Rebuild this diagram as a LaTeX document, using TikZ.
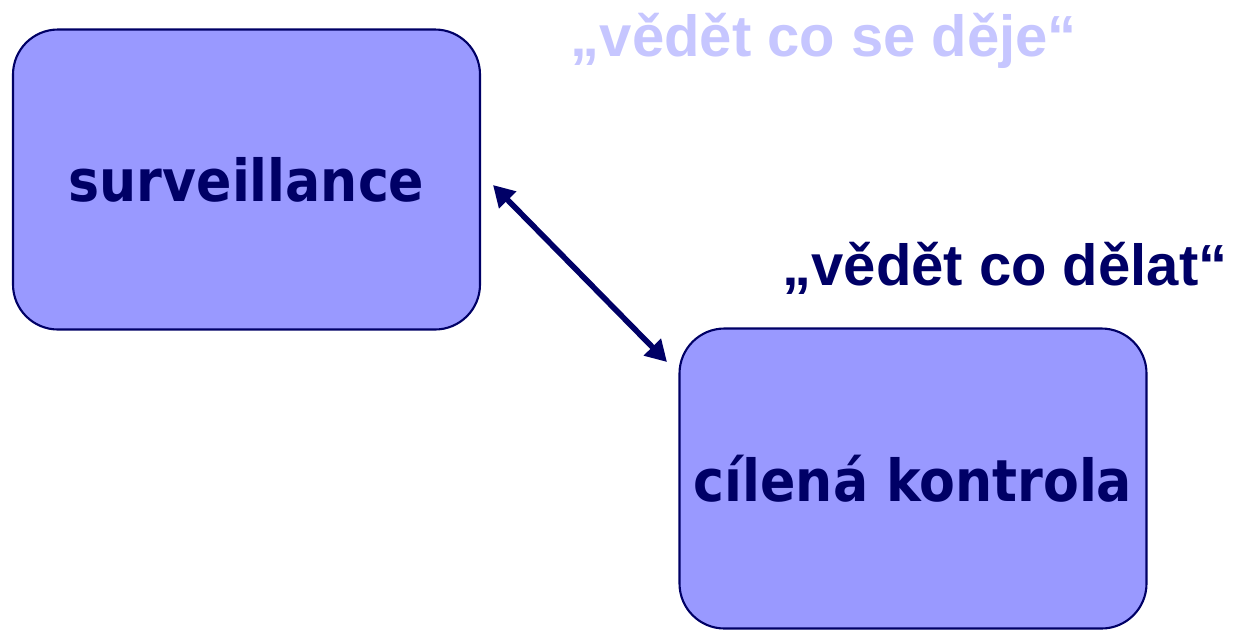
\documentclass[tikz,border=0pt]{standalone}
\usepackage{fontspec}
\usepackage{xcolor}
\setmainfont{DejaVu Sans Condensed}
\newfontfamily\quotefont{Liberation Sans}
\usetikzlibrary{arrows.meta}

\definecolor{boxfill}{HTML}{9999FF}
\definecolor{navy}{HTML}{000066}
\definecolor{paleblue}{HTML}{C6C6FF}

\tikzset{
  topic/.style={draw=navy, line width=1.2pt, fill=boxfill, rounded corners=0.9cm,
    text=navy, font=\fontsize{33}{40}\selectfont\bfseries,
    minimum width=9.34cm, minimum height=6.0cm, inner sep=0pt},
  motto/.style={font=\quotefont\fontsize{33}{40}\selectfont\bfseries, inner sep=0pt},
  twoway/.style={arrows={Triangle[length=0.42cm,width=0.46cm]-Triangle[length=0.42cm,width=0.46cm]}}
}

\begin{document}
\begin{tikzpicture}
\useasboundingbox (0,0) rectangle (24.68,-12.6);
\node[topic] (surv) at (4.93,-3.59) {surveillance};
\node[topic] (target) at (18.26,-9.57) {cílená kontrola};
\node[motto, text=paleblue] (know) at (16.48,-0.82) {„vědět co se děje“};
\node[motto, text=navy] (act) at (20.10,-5.36) {„vědět co dělat“};
\coordinate (tipa) at (9.86,-3.70);
\coordinate (tipb) at (13.34,-7.24);
\draw[twoway, navy, line width=3.2pt] (tipa) -- (tipb);
\end{tikzpicture}
\end{document}
